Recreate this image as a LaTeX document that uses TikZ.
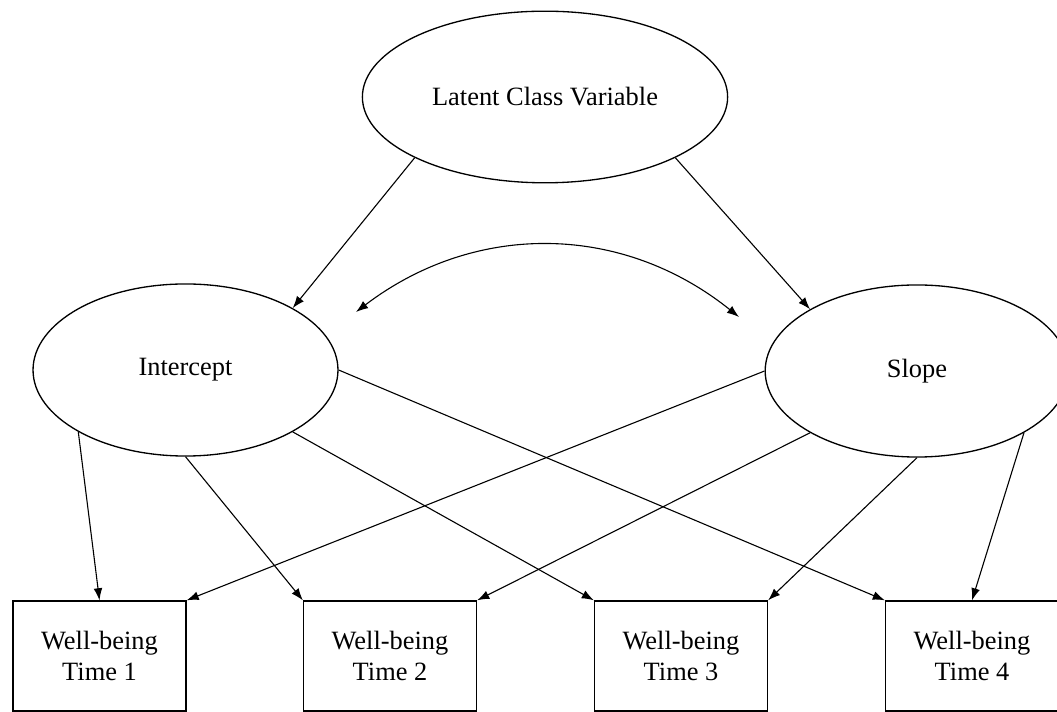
\documentclass[tikz,border=0pt]{standalone}
\usepackage{fontspec}
\setmainfont{Liberation Serif}
\usetikzlibrary{shapes.geometric,arrows.meta}

\begin{document}
\begin{tikzpicture} [
    x=0.4545pt, y=-0.4545pt,
    font=\fontsize{12}{13.8}\selectfont,
    latent/.style = {draw,
                     ellipse,
                     line width=0.6pt,
                     inner sep=0pt},
    wellbox/.style = {draw,
                      rectangle,
                      line width=0.6pt,
                      minimum width=78.6pt,
                      minimum height=50pt,
                      align=center},
    arr/.style = {line width=0.5pt,
                  -{Latex[length=5.5pt,width=4pt]}}
]
\useasboundingbox (0,0) rectangle (1057,712);
\node (lcv) [latent, minimum width=166pt, minimum height=78pt] at (545,97) {Latent Class Variable};
\node (icpt) [latent, minimum width=138.6pt, minimum height=78.2pt] at (185.5,370) {Intercept};
\node (slp) [latent, minimum width=138pt, minimum height=78.2pt] at (917,371) {Slope};
\draw[arr] (lcv.205) -- (icpt.30);
\draw[arr] (lcv.335) -- (slp.150);
% covariance between growth factors
\coordinate (covl) at (356,312);
\coordinate (covr) at (739,317);
\draw[arr, {Latex[length=5.5pt,width=4pt]}-{Latex[length=5.5pt,width=4pt]}] (covl) to[bend left=38] (covr);
\node (wb1) [wellbox] at (99.5,656) {Well-being\\Time 1};
\node (wb2) [wellbox] at (390,656) {Well-being\\Time 2};
\node (wb3) [wellbox] at (681,656) {Well-being\\Time 3};
\node (wb4) [wellbox] at (972,656) {Well-being\\Time 4};
\draw[arr] (icpt.210) -- (wb1.north);
\draw[arr] (icpt.270) -- (wb2.north west);
\draw[arr] (icpt.330) -- (wb3.north west);
\draw[arr] (icpt.0) -- (wb4.north west);
\draw[arr] (slp.180) -- (wb1.north east);
\draw[arr] (slp.210) -- (wb2.north east);
\draw[arr] (slp.270) -- (wb3.north east);
\draw[arr] (slp.330) -- (wb4.north);
\end{tikzpicture}
\end{document}
